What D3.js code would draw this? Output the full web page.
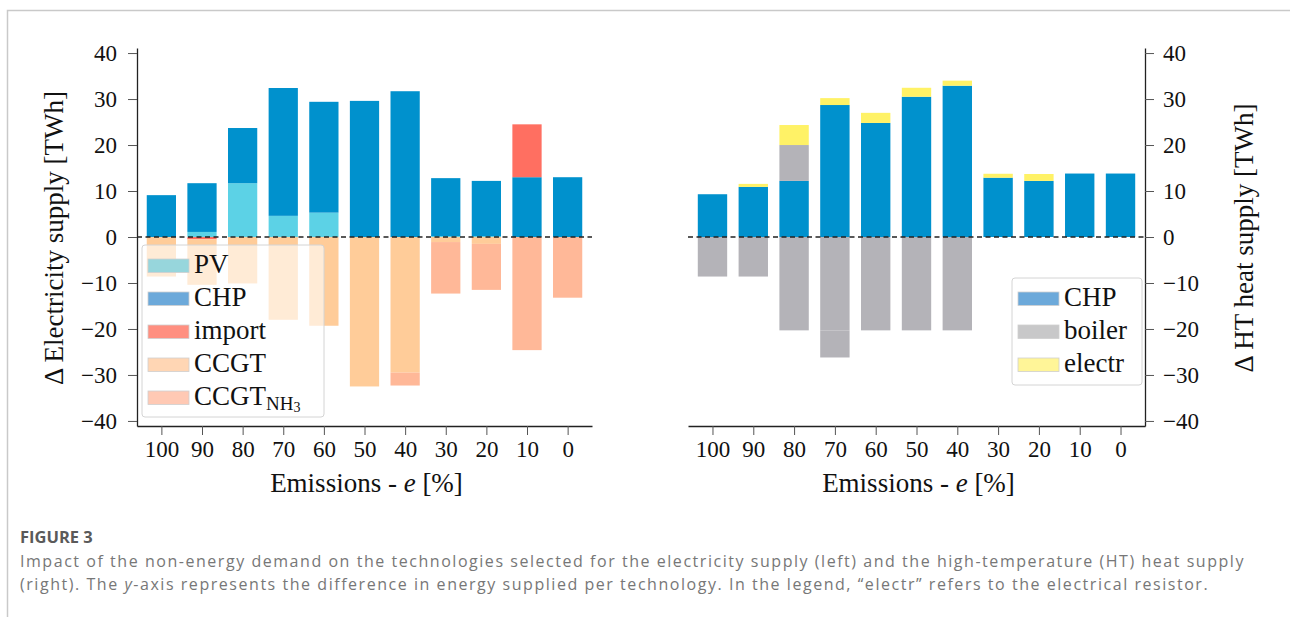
<!DOCTYPE html>
<html>
<head>
<meta charset="utf-8">
<script src="https://cdn.jsdelivr.net/npm/d3@7"></script>
<style>
  body { margin: 0; background: #fff; }
  svg { display: block; }
</style>
</head>
<body>
<div id="chart"></div>
<script>
// emission levels (x axis)
const emissions = ["100", "90", "80", "70", "60", "50", "40", "30", "20", "10", "0"]
const yTicks = [-40, -30, -20, -10, 0, 10, 20, 30, 40]

// electricity supply difference [TWh]
const elecPV      = [0, 1.1, 11.7, 4.6, 5.3, 0, 0, 0.2, 0.2, 0, 0]
const elecCHP     = [9.1, 10.6, 12.0, 27.8, 24.1, 29.6, 31.7, 12.6, 12.0, 13.0, 13.0]
const elecImport  = [0, -0.5, 0, 0, 0, 0, 0, 0, 0, 11.5, 0]
const elecCCGT    = [-8.6, -9.9, -10.1, -18.0, -19.3, -32.5, -29.5, -1.1, -1.5, 0, 0]
const elecCCGTNH3 = [0, 0, 0, 0, 0, 0, -2.8, -11.2, -10.0, -24.6, -13.2]

// HT heat supply difference [TWh]
const heatCHP     = [9.3, 10.9, 12.2, 28.7, 24.8, 30.5, 32.9, 12.9, 12.2, 13.8, 13.8]
const heatBoiler  = [-8.6, -8.6, -20.3, -20.3, -20.3, -20.3, -20.3, 0, 0, 0, 0]
const heatBoiler2 = [0, 0, 7.8, -5.9, 0, 0, 0, 0, 0, 0, 0]
const heatElectr  = [0, 0.65, 4.35, 1.5, 2.2, 1.95, 1.1, 0.85, 1.5, 0, 0]

const elecKeys = ["PV", "CHP", "import", "CCGT", "CCGT_NH3"]
const heatKeys = ["CHP", "boiler", "boiler2", "electr"]

const colors = {
  PV: "#5cd2e6", CHP: "#0091cd", import: "#ff6f61", CCGT: "#ffcc99", CCGT_NH3: "#ffb898",
  boiler: "#b4b3b8", boiler2: "#b4b3b8", electr: "#fff266"
}
const legendColors = {
  PV: "#97d6dc", CHP: "#6ca9da", import: "#ff8f80", CCGT: "#ffd6b4", CCGT_NH3: "#ffc9b4",
  boiler: "#c8c8c9", electr: "#fff598"
}

const W = 1290, H = 617
const SERIF = "'Liberation Serif', 'DejaVu Serif', serif"
const plotTop = 48, plotBottom = 426

const svg = d3.select("#chart").append("svg")
  .attr("width", W)
  .attr("height", H)

// figure frame
svg.append("path")
  .attr("d", "M7.5," + H + " V10.5 H" + W)
  .attr("fill", "none")
  .attr("stroke", "#c9c9c9")
  .attr("stroke-width", 1.5)

const yScale = d3.scaleLinear().domain([-41.1, 41.1]).range([plotBottom, plotTop])
const fmt = d => d < 0 ? "\u2212" + Math.abs(d) : d

const elecRows = emissions.map((e, i) => ({
  PV: elecPV[i], CHP: elecCHP[i], import: elecImport[i], CCGT: elecCCGT[i], CCGT_NH3: elecCCGTNH3[i]
}))
const heatRows = emissions.map((e, i) => ({
  CHP: heatCHP[i], boiler: heatBoiler[i], boiler2: heatBoiler2[i], electr: heatElectr[i]
}))

function styleAxis(ax) {
  ax.attr("font-family", SERIF).attr("font-size", 23)
  ax.selectAll("text")
    .attr("fill", "#111")
    .style("font-family", SERIF)
    .style("font-size", "23px")
  ax.select(".domain").attr("stroke", "#222").attr("stroke-width", 1.3)
  ax.selectAll(".tick line").attr("stroke", "#555")
}

function drawPanel(opts) {
  const xScale = d3.scaleLinear().domain([-0.6, 10.6]).range([opts.x0, opts.x1])
  const barW = xScale(0.72) - xScale(0)
  const g = svg.append("g")

  const series = d3.stack().keys(opts.keys).offset(d3.stackOffsetDiverging)(opts.rows)

  g.selectAll("g.layer")
    .data(series)
    .enter().append("g")
    .attr("class", "layer")
    .attr("fill", d => colors[d.key])
    .selectAll("rect")
    .data(d => d)
    .enter().append("rect")
    .attr("x", (d, i) => xScale(i) - barW / 2)
    .attr("y", d => yScale(Math.max(d[0], d[1])))
    .attr("width", barW)
    .attr("height", d => Math.abs(yScale(d[0]) - yScale(d[1])))

  // zero line
  g.append("line")
    .attr("x1", opts.x0).attr("x2", opts.x1)
    .attr("y1", yScale(0)).attr("y2", yScale(0))
    .attr("stroke", "#222")
    .attr("stroke-width", 1.3)
    .attr("stroke-dasharray", "5,3.5")

  // x axis
  g.append("g")
    .attr("transform", "translate(0," + plotBottom + ")")
    .call(d3.axisBottom(xScale)
      .tickValues(d3.range(emissions.length))
      .tickFormat(i => emissions[i])
      .tickSize(9).tickSizeOuter(0).tickPadding(6))
    .call(styleAxis)

  // y axis
  const yAxis = opts.side === "left" ? d3.axisLeft(yScale) : d3.axisRight(yScale)
  g.append("g")
    .attr("transform", "translate(" + (opts.side === "left" ? opts.x0 : opts.x1) + ",0)")
    .call(yAxis.tickValues(yTicks).tickFormat(fmt).tickSize(9).tickSizeOuter(0).tickPadding(opts.side === "left" ? 11 : 9))
    .call(styleAxis)

  // axis titles
  const xt = g.append("text")
    .attr("x", (opts.x0 + opts.x1) / 2 + 2)
    .attr("y", 492)
    .attr("text-anchor", "middle")
    .attr("font-family", SERIF)
    .attr("font-size", 27)
    .attr("fill", "#111")
  xt.append("tspan").text("Emissions - ")
  xt.append("tspan").attr("font-style", "italic").text("e")
  xt.append("tspan").text(" [%]")

  g.append("text")
    .attr("transform", "translate(" + opts.labelX + ",238) rotate(-90)")
    .attr("text-anchor", "middle")
    .attr("font-family", SERIF)
    .attr("font-size", 27)
    .attr("fill", "#111")
    .text(opts.label)

  // legend
  const lg = g.append("g")
  lg.append("rect")
    .attr("x", opts.legend.x).attr("y", opts.legend.y)
    .attr("width", opts.legend.w).attr("height", opts.legend.h)
    .attr("rx", 3)
    .attr("fill", "#fff").attr("fill-opacity", 0.6)
    .attr("stroke", "#d4d4d4")

  opts.legend.items.forEach((key, i) => {
    const base = opts.legend.y + 28 + i * 33
    lg.append("rect")
      .attr("x", opts.legend.x + 6).attr("y", base - 14)
      .attr("width", 41).attr("height", 13.5)
      .attr("fill", legendColors[key])
      .attr("stroke", "#cfcfcf").attr("stroke-width", 0.8)
    const t = lg.append("text")
      .attr("x", opts.legend.x + 52).attr("y", base)
      .attr("font-family", SERIF)
      .attr("font-size", 27)
      .attr("fill", "#111")
    if (key === "CCGT_NH3") {
      t.append("tspan").text("CCGT")
      t.append("tspan").attr("font-size", 19).attr("dy", 5).text("NH")
      t.append("tspan").attr("font-size", 14).attr("dy", 2).text("3")
    } else {
      t.text(key)
    }
  })
}

drawPanel({
  x0: 137, x1: 592, side: "left", keys: elecKeys, rows: elecRows,
  label: "\u0394 Electricity supply [TWh]", labelX: 63,
  legend: { x: 142, y: 245, w: 182, h: 172, items: ["PV", "CHP", "import", "CCGT", "CCGT_NH3"] }
})

drawPanel({
  x0: 688, x1: 1145, side: "right", keys: heatKeys, rows: heatRows,
  label: "\u0394 HT heat supply [TWh]", labelX: 1253,
  legend: { x: 1012, y: 278, w: 130, h: 107, items: ["CHP", "boiler", "electr"] }
})

// caption
const SANS = "'Open Sans', Lato, sans-serif"
svg.append("text")
  .attr("x", 20).attr("y", 543)
  .attr("font-family", SANS)
  .attr("font-size", 16.5)
  .attr("font-weight", 700)
  .attr("fill", "#5a5a5a")
  .text("FIGURE 3")

const line1 = svg.append("text")
  .attr("x", 20).attr("y", 567)
  .attr("font-family", SANS)
  .attr("font-size", 16)
  .attr("fill", "#777")
  .text("Impact of the non-energy demand on the technologies selected for the electricity supply (left) and the high-temperature (HT) heat supply")

const line2 = svg.append("text")
  .attr("x", 20).attr("y", 590)
  .attr("font-family", SANS)
  .attr("font-size", 16)
  .attr("fill", "#777")
line2.append("tspan").text("(right). The ")
line2.append("tspan").attr("font-style", "italic").text("y")
line2.append("tspan").text("-axis represents the difference in energy supplied per technology. In the legend, \u201celectr\u201d refers to the electrical resistor.")

// spread the caption to the reference line length
const ls = (1225 - line1.node().getComputedTextLength()) / line1.text().length
line1.attr("letter-spacing", ls)
line2.attr("letter-spacing", ls)
</script>
</body>
</html>
